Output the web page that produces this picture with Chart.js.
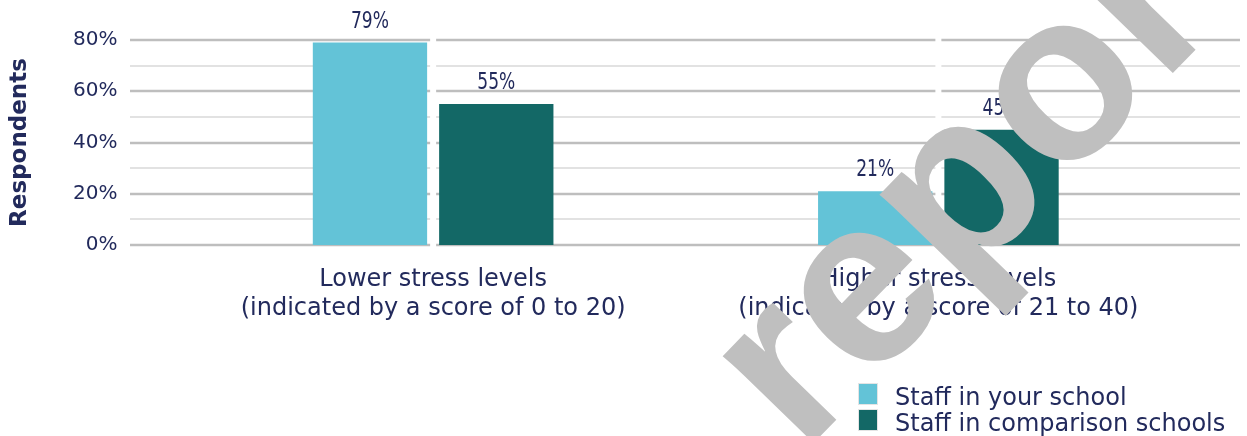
<!DOCTYPE html>
<html>
<head>
<meta charset="utf-8">
<script src="https://cdn.jsdelivr.net/npm/chart.js@4.4.1/dist/chart.umd.min.js"></script>
<style>
  body { margin: 0; background: #fff; }
  #wrap { position: relative; width: 1247px; height: 436px; }
  .lg-box { position: absolute; left: 858px; width: 20px; height: 22px; box-sizing: border-box; border: 1px solid #e4e4e4; }
  .lg-text { position: absolute; left: 895px; font-family: 'DejaVu Sans', sans-serif; font-size: 24px; line-height: 24px; color: #222a5c; white-space: nowrap; }
</style>
</head>
<body>
<div id="wrap">
  <canvas id="stressChart" width="1247" height="436"></canvas>
</div>
<script>
var categories = [
  ["Lower stress levels", "(indicated by a score of 0 to 20)"],
  ["Higher stress levels", "(indicated by a score of 21 to 40)"]
];
var seriesNames = ["Staff in your school", "Staff in comparison schools"];
var yourSchool = [79, 21];
var comparisonSchools = [55, 45];
var yTicks = [0, 20, 40, 60, 80];

var barColors = ["#63c3d7", "#136866"];
var textColor = "#222a5c";
var FONT = "'DejaVu Sans', sans-serif";

// gridlines run wider than the bar area, so draw them from the y scale ourselves
var gridPlugin = {
  id: "wideGrid",
  beforeDatasetsDraw: function (chart) {
    var ctx = chart.ctx, y = chart.scales.y, x = chart.scales.x;
    var breaks = categories.map(function (c, i) { return x.getPixelForValue(i); });
    ctx.save();
    for (var v = 0; v <= 80; v += 10) {
      var py = Math.round(y.getPixelForValue(v));
      var major = yTicks.indexOf(v) >= 0;
      ctx.lineWidth = major ? 2.5 : 2;
      ctx.strokeStyle = major ? "#bebebe" : "#e2e2e2";
      var from = 130;
      breaks.concat([1240 + 3]).forEach(function (bx) {
        ctx.beginPath();
        ctx.moveTo(from, py);
        ctx.lineTo(bx - 3, py);
        ctx.stroke();
        from = bx + 3;
      });
    }
    ctx.restore();
  }
};

var valuePlugin = {
  id: "valueLabels",
  afterDatasetsDraw: function (chart) {
    var ctx = chart.ctx;
    ctx.save();
    ctx.font = "23px 'Liberation Sans Narrow', " + FONT;
    ctx.fillStyle = textColor;
    ctx.textAlign = "center";
    ctx.textBaseline = "middle";
    chart.data.datasets.forEach(function (ds, i) {
      chart.getDatasetMeta(i).data.forEach(function (bar, j) {
        ctx.fillText(ds.data[j] + "%", bar.x, bar.y - 21, 38);
      });
    });
    ctx.restore();
  }
};

var watermark = {
  id: "watermark",
  afterDraw: function (chart) {
    var ctx = chart.ctx;
    ctx.save();
    ctx.translate(802, 455);
    ctx.rotate(-0.8);
    ctx.font = "bold 238px 'Liberation Sans', sans-serif";
    ctx.fillStyle = "#bfbfbf";
    ctx.fillText("report", 0, 0);
    ctx.restore();
  }
};

new Chart("stressChart", {
  type: "bar",
  data: {
    labels: categories,
    datasets: [
      { label: seriesNames[0], data: yourSchool, backgroundColor: barColors[0] },
      { label: seriesNames[1], data: comparisonSchools, backgroundColor: barColors[1] }
    ]
  },
  options: {
    responsive: false,
    animation: false,
    layout: { padding: { top: 40, right: 56, bottom: 0, left: 0 } },
    datasets: {
      bar: { categoryPercentage: 0.5, barPercentage: 0.905 }
    },
    plugins: {
      legend: { display: false },
      tooltip: { enabled: false }
    },
    scales: {
      x: {
        grid: { display: false, drawTicks: false },
        border: { display: false },
        ticks: {
          color: textColor,
          padding: 20,
          font: { family: FONT, size: 24, lineHeight: 1.21 }
        },
        afterFit: function (scale) {
          scale.height = 191;
          scale.paddingLeft = 0;
          scale.paddingRight = 0;
        }
      },
      y: {
        min: 0,
        max: 80,
        grid: { display: false, drawTicks: false },
        border: { display: false },
        ticks: {
          stepSize: 20,
          padding: 63,
          color: textColor,
          font: { family: FONT, size: 20 },
          callback: function (v) { return v + "%"; }
        },
        title: {
          display: true,
          text: "Respondents",
          color: textColor,
          font: { family: FONT, size: 23, weight: "bold" },
          padding: { top: 6, bottom: 0 }
        },
        afterFit: function (scale) {
          scale.width = 180.5;
          // tick padding is only meant to push labels left, not down from the top
          scale.paddingTop = 0;
          scale.paddingBottom = 0;
        }
      }
    }
  },
  plugins: [gridPlugin, valuePlugin, watermark]
});

// legend rows built from the series names
var wrap = document.getElementById("wrap");
seriesNames.forEach(function (name, i) {
  var box = document.createElement("div");
  box.className = "lg-box";
  box.style.top = (383 + 26 * i) + "px";
  box.style.background = barColors[i];
  var txt = document.createElement("div");
  txt.className = "lg-text";
  txt.style.top = (385 + 26 * i) + "px";
  txt.textContent = name;
  wrap.appendChild(box);
  wrap.appendChild(txt);
});
</script>
</body>
</html>
